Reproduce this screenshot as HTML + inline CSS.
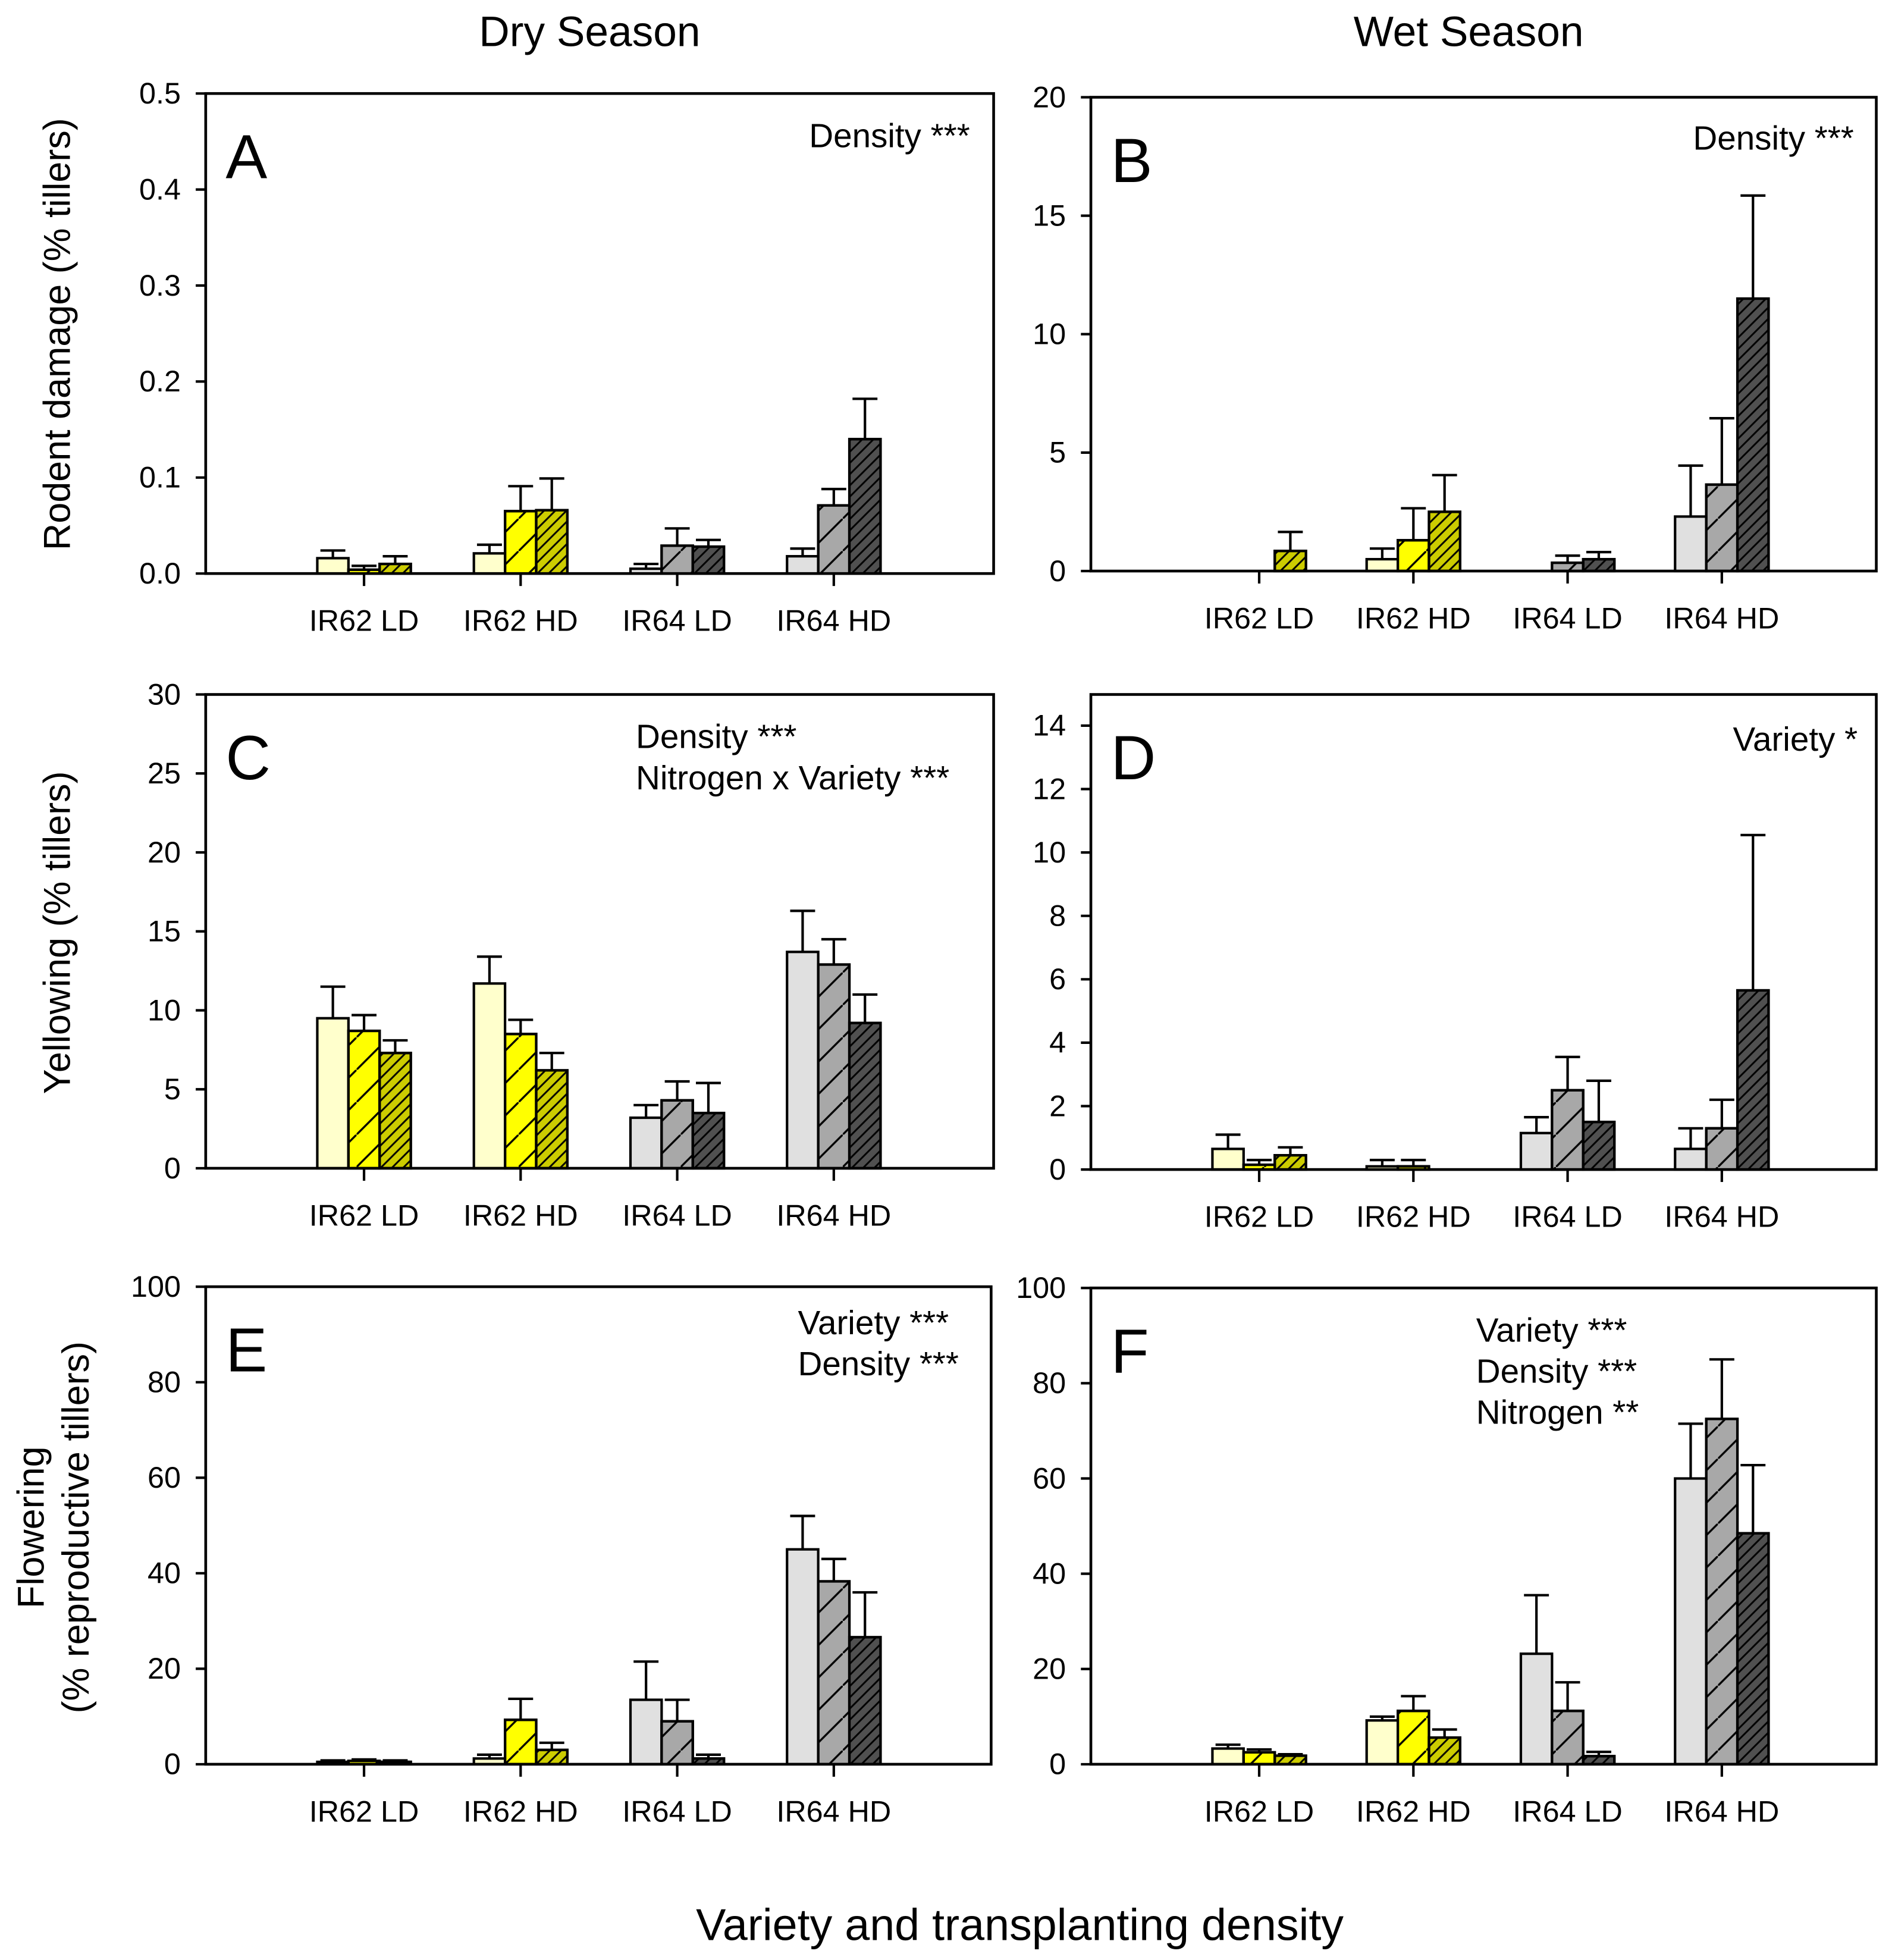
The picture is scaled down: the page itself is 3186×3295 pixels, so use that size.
<!DOCTYPE html>
<html><head><meta charset="utf-8"><style>
html,body{margin:0;padding:0;background:#fff}
svg{display:block}
text{font-family:"Liberation Sans",Arial,sans-serif;fill:#000}
</style></head>
<body>
<svg id="fig" width="3186" height="3295" viewBox="0 0 1520 1572" preserveAspectRatio="none" xmlns="http://www.w3.org/2000/svg">
<defs>
<pattern id="hs" patternUnits="userSpaceOnUse" width="26" height="26">
<line x1="0" y1="26" x2="26" y2="0" stroke="#000" stroke-width="1.6"/>
</pattern>
<pattern id="hd" patternUnits="userSpaceOnUse" width="9" height="9">
<line x1="0" y1="9" x2="9" y2="0" stroke="#000" stroke-width="1.4"/>
<line x1="-2" y1="2" x2="2" y2="-2" stroke="#000" stroke-width="1.4"/>
<line x1="7" y1="11" x2="11" y2="7" stroke="#000" stroke-width="1.4"/>
</pattern>
</defs>
<text x="473" y="37" font-size="34" text-anchor="middle">Dry Season</text>
<text x="1178" y="37" font-size="34" text-anchor="middle">Wet Season</text>
<text x="818" y="1556" font-size="36" text-anchor="middle">Variety and transplanting density</text>
<text transform="translate(56,268) rotate(-90)" font-size="30" text-anchor="middle">Rodent damage (% tillers)</text>
<text transform="translate(56,748) rotate(-90)" font-size="30" text-anchor="middle">Yellowing (% tillers)</text>
<text transform="translate(35,1225) rotate(-90)" font-size="30" text-anchor="middle">Flowering</text>
<text transform="translate(71,1225) rotate(-90)" font-size="30" text-anchor="middle">(% reproductive tillers)</text>
</svg>
<script>
const categories = ["IR62 LD","IR62 HD","IR64 LD","IR64 HD"];
const valsA = [[0.016,0.004,0.010],[0.021,0.065,0.066],[0.005,0.029,0.028],[0.018,0.071,0.140]];
const errA  = [[0.024,0.008,0.018],[0.030,0.091,0.099],[0.010,0.047,0.035],[0.026,0.088,0.182]];
const valsB = [[0,0,0.85],[0.5,1.3,2.5],[0,0.35,0.5],[2.3,3.65,11.5]];
const errB  = [[0,0,1.65],[0.95,2.65,4.05],[0,0.65,0.8],[4.45,6.45,15.85]];
const valsC = [[9.5,8.7,7.3],[11.7,8.5,6.2],[3.2,4.3,3.5],[13.7,12.9,9.2]];
const errC  = [[11.5,9.7,8.1],[13.4,9.4,7.3],[4.0,5.5,5.4],[16.3,14.5,11.0]];
const valsD = [[0.65,0.15,0.45],[0.1,0.1,0],[1.15,2.5,1.5],[0.65,1.3,5.65]];
const errD  = [[1.1,0.3,0.7],[0.3,0.3,0],[1.65,3.55,2.8],[1.3,2.2,10.55]];
const valsE = [[0.5,0.7,0.5],[1.2,9.3,3.0],[13.5,9.0,1.2],[45,38.3,26.6]];
const errE  = [[0.8,1.0,0.8],[2.0,13.7,4.5],[21.5,13.5,2.0],[52,43,36]];
const valsF = [[3.3,2.5,1.8],[9.2,11.2,5.6],[23.2,11.2,1.7],[60,72.5,48.5]];
const errF  = [[4.1,3.1,2.1],[10,14.3,7.3],[35.5,17.2,2.6],[71.5,85,62.8]];
const ticksA = ["0.0","0.1","0.2","0.3","0.4","0.5"];
const ticksB = ["0","5","10","15","20"];
const ticksC = ["0","5","10","15","20","25","30"];
const ticksD = ["0","2","4","6","8","10","12","14"];
const ticksE = ["0","20","40","60","80","100"];
const ticksF = ["0","20","40","60","80","100"];

const NS="http://www.w3.org/2000/svg";
const svg=document.getElementById('fig');
function mk(tag,attrs,parent){const e=document.createElementNS(NS,tag);for(const k in attrs)e.setAttribute(k,attrs[k]);(parent||svg).appendChild(e);return e;}

const panels=[
 {id:'a',L:'A',vals:valsA,err:errA,ticks:ticksA,max:0.5,x0:165,x1:797,yTop:75,y0:460,yMaxPix:75,first:127,step:125.6,ann:[["Density ***",778,118,"end"]]},
 {id:'b',L:'B',vals:valsB,err:errB,ticks:ticksB,max:20,x0:875,x1:1505,yTop:78,y0:458,yMaxPix:78,first:135,step:123.7,ann:[["Density ***",1487,120,"end"]]},
 {id:'c',L:'C',vals:valsC,err:errC,ticks:ticksC,max:30,x0:165,x1:797,yTop:557,y0:937,yMaxPix:557,first:127,step:125.6,ann:[["Density ***",510,600,"start"],["Nitrogen x Variety ***",510,633,"start"]]},
 {id:'d',L:'D',vals:valsD,err:errD,ticks:ticksD,max:14,x0:875,x1:1505,yTop:557,y0:938,yMaxPix:582,first:135,step:123.7,ann:[["Variety *",1490,602,"end"]]},
 {id:'e',L:'E',vals:valsE,err:errE,ticks:ticksE,max:100,x0:165,x1:795,yTop:1032,y0:1415,yMaxPix:1032,first:127,step:125.6,ann:[["Variety ***",640,1070,"start"],["Density ***",640,1103,"start"]]},
 {id:'f',L:'F',vals:valsF,err:errF,ticks:ticksF,max:100,x0:875,x1:1505,yTop:1033,y0:1415,yMaxPix:1033,first:135,step:123.7,ann:[["Variety ***",1184,1076,"start"],["Density ***",1184,1109,"start"],["Nitrogen **",1184,1142,"start"]]}
];
const fills62=["#ffffcc","#ffff00","#cccc00"];
const fills64=["#e0e0e0","#a8a8a8","#505050"];

panels.forEach(p=>{
  const g=mk('g',{});
  
  
  const y=v=>p.y0-(v/p.max)*(p.y0-p.yMaxPix);
  const w=p.x1-p.x0;
  const x=i=>p.x0+p.first+p.step*i;
  p.vals.forEach((row,ci)=>{
    const fills=ci<2?fills62:fills64;
    row.forEach((v,si)=>{
      const bw=25, bx=x(ci)+(si-1.5)*bw;
      if(v>0){
        const r=mk('rect',{x:bx,y:y(v),width:bw,height:p.y0-y(v),fill:fills[si],stroke:'#000','stroke-width':2},g);
        
        
        if(si>0){
          const h=mk('rect',{x:bx,y:y(v),width:bw,height:p.y0-y(v),fill:si===1?'url(#hs)':'url(#hd)',stroke:'#000','stroke-width':2},g);
          
          
        }
      }
      const e=p.err[ci][si];
      if(e>v){
        const cx=bx+bw/2;
        const eb=mk('path',{d:`M${cx},${y(v)}V${y(e)}M${cx-10},${y(e)}H${cx+10}`,stroke:'#000','stroke-width':2,fill:'none'},g);
        
        
      }
    });
    mk('line',{x1:x(ci),x2:x(ci),y1:p.y0,y2:p.y0+10,stroke:'#000','stroke-width':2},g);
    const lab=mk('text',{x:x(ci),y:p.y0+46,'font-size':24,'text-anchor':'middle'},g);
    lab.textContent=categories[ci];
    
    
  });
  const fr=mk('rect',{x:p.x0,y:p.yTop,width:w,height:p.y0-p.yTop,fill:'none',stroke:'#000','stroke-width':2.2},g);
  
  
  const n=p.ticks.length-1;
  p.ticks.forEach((tl,i)=>{
    const v=p.max*i/n, yy=y(v);
    mk('line',{x1:p.x0-8,x2:p.x0,y1:yy,y2:yy,stroke:'#000','stroke-width':2},g);
    const t=mk('text',{x:p.x0-20,y:yy+8,'font-size':24,'text-anchor':'end'},g);
    t.textContent=tl;
    
    
  });
  const L=mk('text',{x:p.x0+16,y:p.yTop+68,'font-size':50},g);
  L.textContent=p.L;
  
  
  p.ann.forEach(a=>{
    const t=mk('text',{x:a[1],y:a[2],'font-size':27,'text-anchor':a[3]},g);
    t.textContent=a[0];
    
    
  });
});
</script>
</body></html>
